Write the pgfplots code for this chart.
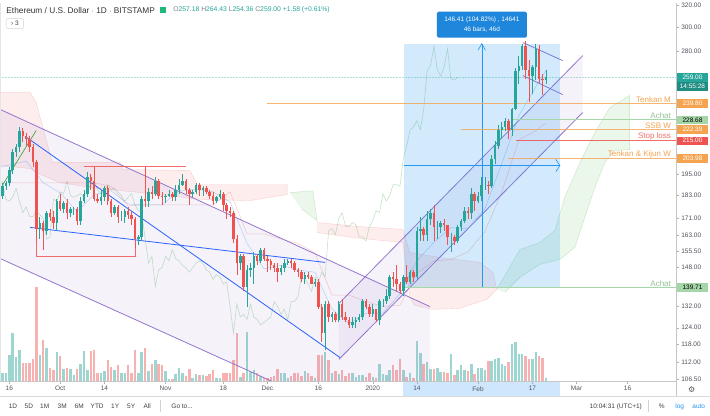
\documentclass[border=0pt]{standalone}
\usepackage{pgfplots}
\pgfplotsset{compat=1.18}
\usepackage{pgfplotstable}
\usepackage{fontspec}
\setmainfont{Liberation Sans}
\newfontfamily\sym{DejaVu Sans}
\usetikzlibrary{arrows.meta}

\definecolor{up}{HTML}{26A69A}
\definecolor{dn}{HTML}{EF5350}
\definecolor{chan}{RGB}{149,117,205}
\definecolor{tvblue}{HTML}{2962FF}
\definecolor{orng}{RGB}{246,163,80}
\definecolor{achat}{RGB}{165,214,167}
\definecolor{txtgray}{RGB}{80,83,94}
\definecolor{measure}{RGB}{33,150,243}
\definecolor{chik}{RGB}{76,175,80}

\pgfplotstableread{
d O H L C V
-2 183 190 181 188 8
-1 188 191 186 190 8
0 190 199 188 197 26
1 197 210 195 208 48
2 208 213 205 211 24
3 211 224 208 221 31
4 221 223 214 218 18
5 218 220 212 216 18
6 216 218 208 211 18
7 211 213 199 202 22
8 202 203 160 166 94
9 166 172 161 169 26
10 169 170 156 165 41
11 165 175 163 174 33
12 174 176 170 172 13
13 172 175 166 169 11
14 169 181 165 180 29
15 180 184 175 176 25
16 176 180 174 179 12
17 179 181 171 174 13
18 174 177 172 176 12
19 176 177 173 176 6
20 176 177 168 170 12
21 170 182 168 180 17
22 180 186 179 184 30
23 184 196 182 193 11
24 193 195 186 191 30
25 191 199 180 181 31
26 181 184 179 180 8
27 180 186 178 182 8
28 182 188 180 187 10
29 187 188 178 180 21
30 180 181 172 174 14
31 174 178 173 177 11
32 177 178 169 172 16
33 172 175 170 172 8
34 172 176 169 175 8
35 175 177 171 173 16
36 173 175 168 171 8
37 171 172 157 161 31
38 161 163 158 162 8
39 162 183 160 181 29
40 181 199 177 180 33
41 180 187 177 185 10
42 185 188 181 184 17
43 184 193 183 191 21
44 191 192 181 183 17
45 183 185 178 182 16
46 182 184 179 183 10
47 183 186 182 184 2
48 184 185 180 182 2
49 182 189 180 186 7
50 186 192 184 189 13
51 189 195 188 191 8
52 191 192 184 186 5
53 186 187 178 184 12
54 184 186 182 185 3
55 185 190 184 189 7
56 189 190 183 186 6
57 186 188 183 187 6
58 187 188 184 185 5
59 185 186 181 183 7
60 183 185 178 180 11
61 180 183 179 182 3
62 182 186 181 184 3
63 184 185 175 178 8
64 178 179 171 175 8
65 175 177 172 174 8
66 174 175 159 161 21
67 161 163 145 150 48
68 150 154 147 153 4
69 153 154 138 140 8
70 140 149 132 147 49
71 147 150 144 148 9
72 148 155 141 153 11
73 153 154 149 151 8
74 151 157 150 156 5
75 156 157 151 152 3
76 152 153 146 151 3
77 151 152 147 149 4
78 149 150 146 148 5
79 148 150 142 146 12
80 146 149 145 148 8
81 148 152 146 150 8
82 150 152 149 151 3
83 151 152 148 150 5
84 150 151 146 147 8
85 147 148 144 146 8
86 146 147 142 143 5
87 143 146 141 145 10
88 145 146 143 144 8
89 144 145 141 141 5
90 141 143 140 142 3
91 142 143 131 132 26
92 132 133 119 122 26
93 122 134 116 133 29
94 133 134 126 128 21
95 128 130 126 129 8
96 129 130 126 127 10
97 127 134 126 133 7
98 133 135 127 128 11
99 128 130 126 127 5
100 127 128 124 125 8
101 125 128 124 126 8
102 126 128 124 127 4
103 127 129 126 128 6
104 128 135 127 134 6
105 134 135 131 132 4
106 132 133 128 129 8
107 129 133 128 131 4
108 131 131 126 127 3
109 127 135 125 134 17
110 134 135 132 134 7
111 134 139 133 136 6
112 136 145 135 144 11
113 144 146 140 143 16
114 143 149 138 141 11
115 141 142 137 138 22
116 138 145 136 144 11
117 144 149 141 142 4
118 142 147 141 146 8
119 146 147 142 144 3
120 144 167 143 165 40
121 165 172 160 166 28
122 166 167 160 163 17
123 163 175 160 171 19
124 171 176 168 174 12
125 174 178 160 167 12
126 167 170 161 167 13
127 167 170 164 169 9
128 169 171 165 168 9
129 168 168 158 162 8
130 162 164 155 162 27
131 162 163 158 160 6
132 160 168 159 167 11
133 167 171 165 170 16
134 170 177 169 175 11
135 175 177 171 174 10
136 174 187 171 184 17
137 184 185 175 180 7
138 180 185 179 183 13
139 183 193 180 189 13
140 189 193 186 189 11
141 189 191 184 188 20
142 188 206 187 204 20
143 204 215 201 212 22
144 212 225 210 222 23
145 222 227 216 224 17
146 224 230 221 228 15
147 228 229 216 222 19
148 222 237 218 236 37
149 236 266 235 264 39
150 264 276 254 268 27
151 268 286 265 284 27
152 284 288 258 265 25
153 265 273 241 260 22
154 260 269 247 267 22
155 267 286 257 282 29
156 282 285 255 258 25
157 258 262 246 257 23
158 257.18 264.43 254.36 259.00 3
}\ohlc

\tikzset{lvl/.style={anchor=south east, inner sep=0.6pt, font=\fontsize{8}{9}\selectfont},
  pbox/.style={anchor=west, inner sep=0pt, minimum width=31pt, minimum height=8.5pt, font=\fontsize{6.5}{7}\selectfont},
  tb/.style={inner sep=0pt, text=black!75, font=\fontsize{6.5}{7}\selectfont}}

\begin{document}
\begin{tikzpicture}[x=1pt,y=1pt]
\fill[white] (0,0) rectangle (710,413);

% build candle coordinate lists from the table
\pgfplotstablegetrowsof{\ohlc}
\pgfmathtruncatemacro\nrows{\pgfplotsretval-1}
\gdef\upW{}\gdef\upB{}\gdef\upV{}\gdef\dnW{}\gdef\dnB{}\gdef\dnV{}
\foreach \i in {0,...,\nrows}{%
  \pgfplotstablegetelem{\i}{d}\of\ohlc \let\cd\pgfplotsretval
  \pgfplotstablegetelem{\i}{O}\of\ohlc \let\co\pgfplotsretval
  \pgfplotstablegetelem{\i}{H}\of\ohlc \let\ch\pgfplotsretval
  \pgfplotstablegetelem{\i}{L}\of\ohlc \let\cl\pgfplotsretval
  \pgfplotstablegetelem{\i}{C}\of\ohlc \let\cc\pgfplotsretval
  \pgfplotstablegetelem{\i}{V}\of\ohlc \let\cv\pgfplotsretval
  \pgfmathtruncatemacro\isup{\cc<\co ? 0 : 1}%
  \ifnum\isup=1
    \xdef\upW{\upW (\cd,\cl) (\cd,\ch) (\cd,nan)}%
    \xdef\upB{\upB (\cd,\co) (\cd,\cc) (\cd,nan)}%
    \xdef\upV{\upV (\cd,0) (\cd,\cv) (\cd,nan)}%
  \else
    \xdef\dnW{\dnW (\cd,\cl) (\cd,\ch) (\cd,nan)}%
    \xdef\dnB{\dnB (\cd,\co) (\cd,\cc) (\cd,nan)}%
    \xdef\dnV{\dnV (\cd,0) (\cd,\cv) (\cd,nan)}%
  \fi
}

% time-axis highlight band
\fill[measure, opacity=0.22] (403,19) rectangle (560,33.5);

% ---------------- volume pane ----------------
\begin{axis}[at={(0pt,34pt)}, anchor=south west, scale only axis,
  width=676pt, height=379pt, xmin=-2.65, xmax=196.2, ymin=0, ymax=379,
  hide axis]
\edef\tmp{\noexpand\addplot[draw=up, draw opacity=0.45, line width=2.5pt, unbounded coords=jump] coordinates {\upV};}\tmp
\edef\tmp{\noexpand\addplot[draw=dn, draw opacity=0.45, line width=2.5pt, unbounded coords=jump] coordinates {\dnV};}\tmp
\end{axis}

% ---------------- price pane ----------------
\begin{axis}[at={(0pt,34pt)}, anchor=south west, scale only axis,
  width=676pt, height=379pt, xmin=-2.65, xmax=196.2,
  ymode=log, ymin=105.9, ymax=322.8,
  axis line style={draw=none},
  xtick pos=left, ytick pos=right, xticklabel pos=left, yticklabel pos=right,
  tick align=outside, major tick length=3pt,
  tick style={draw=gray!60, line width=0.4pt},
  xtick={0,15,28,46,63,76,91,107,120,138,154,167,182},
  xticklabels={16,Oct,14,Nov,18,Dec,16,2020,14,Feb,17,Mar,16},
  ytick={106.5,112,118,124,132,148,155.5,163,171,183,195,280,300,320},
  yticklabels={106.50,112.00,118.00,124.00,132.00,148.00,155.50,163.00,171.00,183.00,195.00,280.00,300.00,320.00},
  ticklabel style={font=\fontsize{6.5}{7}\selectfont, text=txtgray},
  xticklabel style={yshift=1.5pt},
  yticklabel style={xshift=-1pt},
  ]
% Ichimoku cloud
\addplot[fill=dn, fill opacity=0.10, draw=dn, draw opacity=0.22, line width=0.4pt] coordinates {
(-2.65,247.7) (6.18,247.7) (7.94,240.6) (12.65,201.7) (32.6,201.7) (33.2,197.5) (53.2,197.0) (55.3,189.0) (81.8,189.0)
(81.8,183.5) (70.9,180.3) (56.2,180.9) (44.4,183.5) (32.6,185.7) (23.8,187.4) (15,190.1) (9.12,194.7) (6.18,198.1) (-2.65,199.9)};
\addplot[fill=green!60!black, fill opacity=0.08, draw=green!60!black, draw opacity=0.2, line width=0.4pt] coordinates {
(82.6,184.6) (89.4,185.5) (90.6,170.0) (86,176)};
\addplot[fill=dn, fill opacity=0.10, draw=dn, draw opacity=0.22, line width=0.4pt] coordinates {
(90.6,169.0) (103.2,167.0) (115.9,165.6) (117.9,154.8) (126.8,152.5) (138.5,150.3) (142.4,145.9) (143.5,138.8)
(140.6,134.8) (132.6,131.3) (124.7,130.9) (119.4,132.4) (117.9,135.6) (115.9,159.4) (103.2,161.3) (90.6,164.1)};
\addplot[fill=green!60!black, fill opacity=0.08, draw=green!60!black, draw opacity=0.2, line width=0.4pt] coordinates {
(143.5,138.8) (150.3,156.1) (156.2,159.4) (160.6,165.1) (163.5,181.9) (168.0,201.7) (172.4,220.3) (176.8,237.1) (182.6,245.6)
(182.6,209.5) (178.2,208.9) (175.3,201.7) (172.4,187.4) (169.4,171.5) (166.5,157.1) (162.1,151.6) (156.2,149.4) (150.3,143.8) (145.9,137.6)};
% kijun and tenkan
\addplot[dn, draw opacity=0.3, line width=0.5pt] coordinates {
(-2.6,190) (25,190) (30,188) (35,177.5) (40,178) (60,178) (65,185) (70,163.5) (75,163.5) (80,161) (85,159) (90,154.5) (95,136.5) (100,136.5) (105,134) (110,132) (115,132.5) (120,145.5) (125,151) (130,151.5) (135,155) (140,164.5) (145,185) (150,215.5) (155,221.5) (158,226.5)};
\addplot[measure, draw opacity=0.35, line width=0.5pt] coordinates {
(-2.6,199) (5,202.5) (10,190) (15,184.5) (20,174.5) (25,183.5) (30,185.5) (35,178.5) (40,178) (45,178) (50,185.5) (55,186.5) (60,185) (65,179.5) (70,159) (75,147.5) (80,149) (85,147) (90,146) (95,131) (100,125.5) (105,129.5) (110,129.5) (115,137) (120,151) (125,159.5) (130,166.5) (135,166) (140,176) (145,201) (150,231.5) (155,252) (158,264.5)};
% lagging span (close shifted 26 bars back)
\addplot[chik, draw opacity=0.35, line width=0.55pt, skip coords between index={0}{26}] table[x expr=\thisrow{d}-26, y=C] {\ohlc};

% descending channel
\addplot[fill=chan, fill opacity=0.09, draw=none] coordinates {(-2.65,235.7) (123.8,132.0) (123.8,105.9) (77.35,105.9) (-2.65,152.0)};
\addplot[chan, line width=0.8pt] coordinates {(-2.65,235.7) (123.8,132.0)};
\addplot[chan, line width=0.8pt] coordinates {(-2.65,152.0) (77.35,105.9)};
% ascending channel
\addplot[fill=chan, fill opacity=0.09, draw=none] coordinates {(97.06,133.2) (168.8,276.2) (168.8,233.6) (97.06,113.0)};
\addplot[chan, line width=0.8pt] coordinates {(97.06,133.2) (168.8,276.2)};
\addplot[chan, line width=0.8pt] coordinates {(97.06,113.0) (168.8,233.6)};
% small top channel
\addplot[chan, line width=0.8pt] coordinates {(151.2,287.0) (162.9,272.2)};
\addplot[chan, line width=0.8pt] coordinates {(151.2,260.4) (162.9,246.3)};
% short green line
\addplot[green!55!black, draw opacity=0.7, line width=0.7pt] coordinates {(-2.06,188.5) (7.94,221.6)};
% blue trend lines
\addplot[tvblue, line width=0.8pt] coordinates {(4.71,217.7) (97.35,113.6)};
\addplot[tvblue, line width=0.8pt] coordinates {(6.18,166.6) (92.94,150.3)};
% red bracket lines
\addplot[dn, draw opacity=0.85, line width=0.7pt] coordinates {(22.06,199.3) (52.06,199.3)};
\addplot[dn, draw opacity=0.85, line width=0.7pt] coordinates {(7.94,165.6) (7.94,153.0) (37.06,153.0) (37.06,160.8)};

% measurement box
\addplot[fill=measure, fill opacity=0.2, draw=none] coordinates {(116.2,139.71) (162.1,139.71) (162.1,286.12) (116.2,286.12)};
\addplot[measure, line width=0.6pt] coordinates {(139.1,139.71) (139.1,286.12)};
\addplot[measure, line width=0.6pt] coordinates {(116.2,199.9) (162.1,199.9)};
\addplot[measure, line width=0.6pt] coordinates {(138.0,280.5) (139.1,286.12) (140.2,280.5)};
\addplot[measure, line width=0.6pt] coordinates {(160.9,203.5) (162.1,199.9) (160.9,196.3)};

% horizontal levels
\addplot[orng, draw opacity=0.8, line width=1.1pt] coordinates {(75.9,239.8) (196.2,239.8)};
\addplot[achat, line width=1.1pt] coordinates {(148.2,228.68) (196.2,228.68)};
\addplot[orng, draw opacity=0.8, line width=1.1pt] coordinates {(132.9,222.39) (196.2,222.39)};
\addplot[dn, draw opacity=0.85, line width=1.1pt] coordinates {(149.1,215.0) (196.2,215.0)};
\addplot[orng, draw opacity=0.8, line width=1.1pt] coordinates {(146.8,203.98) (196.2,203.98)};
\addplot[achat, line width=1.1pt] coordinates {(115.9,139.71) (196.2,139.71)};
% current price line
\addplot[up, draw opacity=0.35, line width=0.5pt, densely dotted] coordinates {(-2.65,259) (196.2,259)};

% candles
\edef\tmp{\noexpand\addplot[draw=up, line width=0.7pt, unbounded coords=jump] coordinates {\upW};}\tmp
\edef\tmp{\noexpand\addplot[draw=dn, line width=0.7pt, unbounded coords=jump] coordinates {\dnW};}\tmp
\edef\tmp{\noexpand\addplot[draw=up, line width=2.5pt, unbounded coords=jump] coordinates {\upB};}\tmp
\edef\tmp{\noexpand\addplot[draw=dn, line width=2.5pt, unbounded coords=jump] coordinates {\dnB};}\tmp

% level labels
\node[lvl, text=orng] at (axis cs:195,239.8) {Tenkan M};
\node[lvl, text=achat!90!black] at (axis cs:195,228.68) {Achat};
\node[lvl, text=orng] at (axis cs:195,222.39) {SSB W};
\node[lvl, text=dn!85] at (axis cs:195,215.0) {Stop loss};
\node[lvl, text=orng] at (axis cs:195,203.98) {Tenkan \& Kijun W};
\node[lvl, text=achat!90!black] at (axis cs:195,139.71) {Achat};
\end{axis}

% frame lines
\draw[gray!45, line width=0.5pt] (0,34) -- (676,34);
\draw[gray!45, line width=0.5pt] (676,19) -- (676,413);
\draw[gray!30, line width=0.5pt] (0,19) -- (710,19);
\draw[gray!20, line width=0.5pt] (0.5,34) -- (0.5,413);

% price scale boxes
\node[pbox, fill=up, text=white] at (677,338.1) {259.00};
\node[pbox, fill=up!85!black, text=white] at (677,329.2) {14:55:28};
\node[pbox, fill=orng, text=white] at (677,312) {239.80};
\node[pbox, fill=achat, text=black] at (677,295.8) {228.68};
\node[pbox, fill=orng, text=white] at (677,286.3) {222.39};
\node[pbox, fill=dn, text=white] at (677,274.8) {215.00};
\node[pbox, fill=orng, text=white] at (677,256.9) {203.98};
\node[pbox, fill=achat, text=black] at (677,128.2) {139.71};

% measurement label
\node[fill=measure!90!black, rounded corners=1.5pt, text=white, align=center, minimum width=90pt, minimum height=26pt, inner sep=1pt,
  font=\fontsize{6.5}{10}\selectfont] at (482,391) {146.41 (104.82\%) , 14641\\46 bars, 46d};

% header
\node[anchor=west, inner sep=0pt, text=black!80, font=\fontsize{8.3}{9}\selectfont] at (6,405.5) {Ethereum / U.S. Dollar $\cdot$ 1D $\cdot$ BITSTAMP};
\fill[up!80!green] (160,402.5) rectangle (166,408.5);
\node[anchor=west, inner sep=0pt, font=\fontsize{6.8}{8}\selectfont] at (173,405.5) {%
\textcolor{gray}{O}\textcolor{up}{257.18} \textcolor{gray}{H}\textcolor{up}{264.43} \textcolor{gray}{L}\textcolor{up}{254.36} \textcolor{gray}{C}\textcolor{up}{259.00} \textcolor{up}{+1.58 (+0.61\%)}};
\draw[gray!35, rounded corners=1.5pt, line width=0.5pt] (6,387) rectangle (23.5,397);
\node[inner sep=0pt, text=black!75, font=\fontsize{6.5}{7}\selectfont] at (14.7,392) {› 3};

% gear
\node[inner sep=0pt, text=black!65, font=\sym\fontsize{8}{9}\selectfont] at (692,26) {⚙};

% bottom toolbar
\node[tb] at (12.7,9) {1D};
\node[tb] at (28.6,9) {5D};
\node[tb] at (44.5,9) {1M};
\node[tb] at (62,9) {3M};
\node[tb] at (79,9) {6M};
\node[tb] at (97,9) {YTD};
\node[tb] at (115,9) {1Y};
\node[tb] at (131,9) {5Y};
\node[tb] at (147,9) {All};
\draw[gray!35, line width=0.5pt] (160,3) -- (160,15);
\node[tb] at (182,9) {Go to...};
\node[tb] at (616,9) {10:04:31 (UTC+1)};
\draw[gray!35, line width=0.5pt] (648,3) -- (648,15);
\node[tb] at (662,9) {\%};
\node[tb, text=measure] at (680,9) {log};
\node[tb, text=measure] at (699,9) {auto};
\end{tikzpicture}
\end{document}
